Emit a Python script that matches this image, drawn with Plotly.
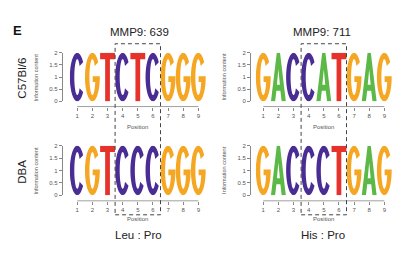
import math
import plotly.graph_objects as go

# ---------------- data ----------------
positions = [1, 2, 3, 4, 5, 6, 7, 8, 9]
seq_c57_639 = ["C", "G", "T", "C", "T", "C", "G", "G", "G"]
seq_dba_639 = ["C", "G", "T", "C", "C", "C", "G", "G", "G"]
seq_c57_711 = ["G", "A", "C", "C", "A", "T", "G", "A", "G"]
seq_dba_711 = ["G", "A", "C", "C", "C", "T", "G", "A", "G"]
ic_c57_639 = [2, 2, 2, 2, 2, 2, 2, 2, 2]
ic_dba_639 = [2, 2, 2, 2, 2, 2, 2, 2, 2]
ic_c57_711 = [2, 2, 2, 2, 2, 2, 2, 2, 2]
ic_dba_711 = [2, 2, 2, 2, 2, 2, 2, 2, 2]
y_ticks = [0, 0.5, 1, 1.5, 2]
y_ticktext = ["0", "0.5", "1", "1.5", "2"]
titles = ["MMP9: 639", "MMP9: 711"]
row_labels = ["C57Bl/6", "DBA"]
bottom_labels = ["Leu : Pro", "His : Pro"]
box_range = [3.5, 6.5]

COLORS = {"A": "#5cb947", "C": "#4a2c95", "G": "#f5a623", "T": "#e5322b"}

W, H = 416, 260
FONT = "Liberation Sans, Arial, Helvetica, sans-serif"


def px(x):
    return x / W


def py(y):
    return 1 - y / H


# ---------------- glyphs (unit box) ----------------
def arc(cx, cy, rx, ry, a0, a1, n=48):
    pts = []
    for i in range(n + 1):
        a = math.radians(a0 + (a1 - a0) * i / n)
        pts.append((cx + rx * math.cos(a), cy + ry * math.sin(a)))
    return pts


def glyph(letter):
    if letter == "C":
        outer = arc(0.5, 0.5, 0.5, 0.5, 38, 322)
        inner = arc(0.5, 0.5, 0.2, 0.37, 322, 38)
        return [outer + inner]
    if letter == "G":
        outer = arc(0.5, 0.5, 0.5, 0.5, 38, 360)
        yb = 0.40
        ang = math.degrees(math.asin((yb - 0.5) / 0.37))
        inner = arc(0.5, 0.5, 0.2, 0.37, 360 + ang, 38)
        bar = [(1.0, 0.52), (0.52, 0.52), (0.52, yb)]
        return [outer + bar + inner]
    if letter == "T":
        return [[(0, 1), (1, 1), (1, 0.87), (0.66, 0.87), (0.66, 0),
                 (0.34, 0), (0.34, 0.87), (0, 0.87)]]
    if letter == "A":
        outer = [(0, 0), (0.39, 1), (0.61, 1), (1, 0), (0.72, 0),
                 (0.635, 0.22), (0.365, 0.22), (0.28, 0)]
        hole = [(0.6, 0.34), (0.5, 0.66), (0.4, 0.34)]
        return [outer, hole]
    return []


def letter_path(letter, pos, height, w=0.98):
    x0 = pos - 0.5 + (1 - w) / 2
    parts = []
    for poly in glyph(letter):
        pts = [(x0 + w * ux, height * uy) for ux, uy in poly]
        s = "M" + " L".join(f"{x:.4f},{y:.4f}" for x, y in pts) + " Z"
        parts.append(s)
    return " ".join(parts)


def label(text, x, y, size, color="#222", angle=0, xref="paper"):
    return dict(text=text, xref=xref, yref="paper", x=x, y=y,
                xanchor="center", yanchor="middle", showarrow=False,
                textangle=angle, font=dict(size=size, color=color, family=FONT))


# ---------------- layout geometry (pixels) ----------------
cols = [
    dict(x0=69.7, x1=205.9, yline=61.7, tcx=139.3, blx=138),
    dict(x0=255.7, x1=391.9, yline=250.0, tcx=321.7, blx=323),
]
rows = [
    dict(ytop=51.0, ybot=100.7, xline=106.0, pos_y=127.0, rlabel_y=76.7),
    dict(ytop=146.0, ybot=196.7, xline=202.5, pos_y=221.0, rlabel_y=173.0),
]
panels = [
    (0, 0, seq_c57_639, ic_c57_639),
    (0, 1, seq_c57_711, ic_c57_711),
    (1, 0, seq_dba_639, ic_dba_639),
    (1, 1, seq_dba_711, ic_dba_711),
]

fig = go.Figure()
shapes = []
annotations = []
layout = {}

for k, (r, c, seq, ic) in enumerate(panels):
    idx = k + 1
    xa = "x" if idx == 1 else f"x{idx}"
    ya = "y" if idx == 1 else f"y{idx}"
    xkey = "xaxis" if idx == 1 else f"xaxis{idx}"
    ykey = "yaxis" if idx == 1 else f"yaxis{idx}"
    col, row = cols[c], rows[r]

    layout[xkey] = dict(
        domain=[px(col["x0"]), px(col["x1"])], range=[0.5, 9.5],
        anchor="free", position=py(row["xline"]),
        showgrid=False, zeroline=False, showline=False,
        ticks="outside", ticklen=3, tickwidth=0.8, tickcolor="#888",
        tickvals=positions, ticktext=[str(p) for p in positions],
        tickfont=dict(size=6, color="#555", family=FONT),
        fixedrange=True,
    )
    layout[ykey] = dict(
        domain=[py(row["ybot"]), py(row["ytop"])], range=[0, 2],
        anchor="free", position=px(col["yline"]),
        showgrid=False, zeroline=False, showline=True,
        linecolor="#888", linewidth=0.8,
        ticks="outside", ticklen=3, tickwidth=0.8, tickcolor="#888",
        tickvals=y_ticks, ticktext=y_ticktext,
        tickfont=dict(size=6, color="#555", family=FONT),
        fixedrange=True,
    )
    fig.add_trace(go.Scatter(x=positions, y=ic, mode="markers",
                             marker=dict(opacity=0), hoverinfo="skip",
                             showlegend=False, xaxis=xa, yaxis=ya))
    for p, letter, h in zip(positions, seq, ic):
        shapes.append(dict(type="path", xref=xa, yref=ya,
                           path=letter_path(letter, p, h),
                           fillcolor=COLORS[letter], fillrule="evenodd",
                           line=dict(width=0), layer="above"))
    shapes.append(dict(type="line", xref=xa, yref="paper",
                       x0=positions[0], x1=positions[-1],
                       y0=py(row["xline"]), y1=py(row["xline"]),
                       line=dict(color="#888", width=0.8)))
    annotations.append(label("Position", 5, py(row["pos_y"]), 6, "#555", xref=xa))
    annotations.append(label("Information content", px(col["yline"] - 25.5),
                             py((row["ytop"] + row["ybot"]) / 2), 5.5, "#555", -90))

for c, xa in [(0, "x"), (1, "x2")]:
    shapes.append(dict(type="rect", xref=xa, yref="paper",
                       x0=box_range[0], x1=box_range[1],
                       y0=py(216.8), y1=py(41.7),
                       line=dict(color="#444", width=1, dash="4px,3px"),
                       fillcolor="rgba(0,0,0,0)", layer="above"))

for c in range(2):
    annotations.append(label(titles[c], px(cols[c]["tcx"]), py(29.3), 11.5))
    annotations.append(label(bottom_labels[c], px(cols[c]["blx"]), py(237.3), 11.5))
for r in range(2):
    annotations.append(label(row_labels[r], px(21.7), py(rows[r]["rlabel_y"]),
                             11.5, angle=-90))
annotations.append(label("<b>E</b>", px(17), py(28), 13, "#111"))

fig.update_layout(
    width=W, height=H, margin=dict(l=0, r=0, t=0, b=0),
    paper_bgcolor="white", plot_bgcolor="white",
    shapes=shapes, annotations=annotations, showlegend=False,
    **layout,
)

fig.write_html("out.html", config=dict(displayModeBar=False))
